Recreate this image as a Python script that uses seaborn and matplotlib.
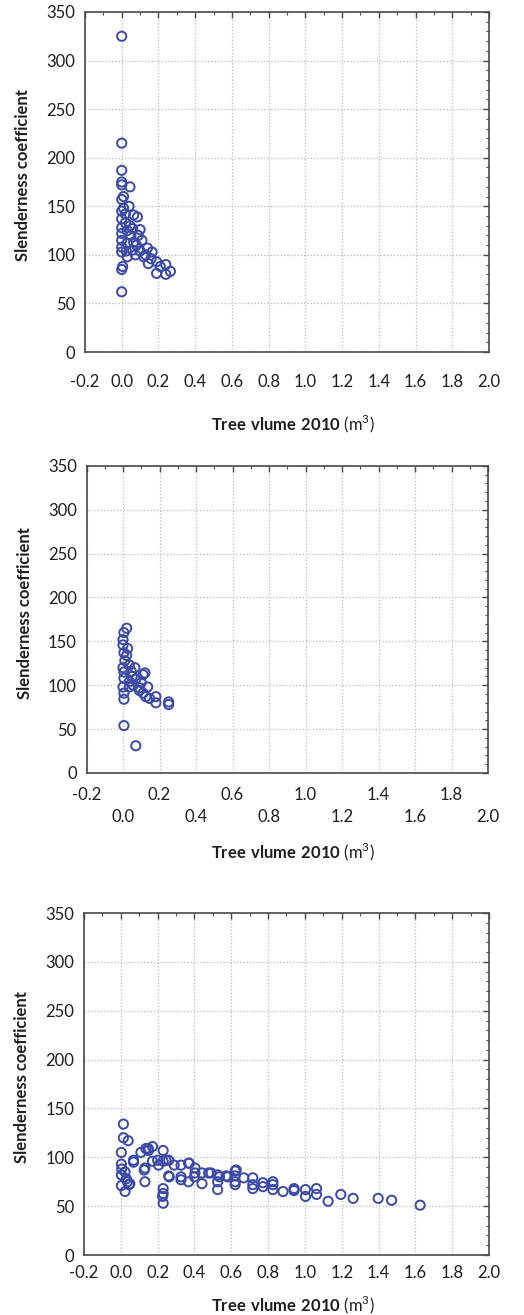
import matplotlib
matplotlib.use("Agg")
import matplotlib.pyplot as plt
import seaborn as sns
from matplotlib.ticker import MultipleLocator, FixedLocator

# ─── data ───────────────────────────────────────────────────────────────────
vol_a = [0.0, 0.0, 0.0, 0.0, 0.0, 0.045, 0.0, 0.01, 0.04, 0.065, 0.085, 0.0,
         0.0, 0.01, 0.045, 0.1, 0.0, 0.0, 0.02, 0.065, 0.11, 0.0, 0.0, 0.14,
         0.165, 0.03, 0.075, 0.12, 0.0, 0.19, 0.24, 0.145, 0.19, 0.24, 0.265,
         0.005, 0.0, 0.0, 0.05, 0.08, 0.03, 0.06, 0.09, 0.1, 0.13, 0.02, 0.03,
         0.06, 0.025, 0.16, 0.21]
sc_a = [325, 215, 187, 175, 172, 170, 157, 160, 150, 141, 139, 137,
        145, 148, 130, 126, 122, 128, 133, 113, 115, 108, 115, 107,
        103, 98, 100, 98, 103, 93, 90, 91, 81, 80, 83,
        88, 85, 62, 120, 110, 112, 105, 120, 104, 100, 142, 125,
        127, 104, 96, 88]

vol_b = [0.005, 0.02, 0.0, 0.0, 0.005, 0.02, 0.035, 0.01, 0.0, 0.005, 0.045,
         0.065, 0.07, 0.11, 0.12, 0.005, 0.0, 0.035, 0.09, 0.135, 0.09, 0.11,
         0.125, 0.005, 0.005, 0.035, 0.18, 0.18, 0.25, 0.25, 0.05, 0.025,
         0.055, 0.145, 0.1, 0.005, 0.07]
sc_b = [160, 165, 152, 146, 137, 134, 123, 128, 120, 115, 116,
        120, 107, 112, 114, 108, 98, 98, 97, 98, 94, 91,
        87, 91, 84, 104, 87, 80, 81, 78, 110, 142,
        100, 85, 103, 54, 31]

vol_c = [0.014, 0.014, 0.04, 0.003, 0.003, 0.005, 0.003, 0.003, 0.023, 0.036,
         0.049, 0.023, 0.069, 0.069, 0.109, 0.131, 0.131, 0.149, 0.172, 0.172,
         0.2, 0.205, 0.23, 0.23, 0.23, 0.23, 0.23, 0.26, 0.26, 0.29, 0.327,
         0.327, 0.327, 0.368, 0.368, 0.403, 0.403, 0.441, 0.441, 0.477, 0.526,
         0.526, 0.526, 0.572, 0.621, 0.621, 0.621, 0.621, 0.668, 0.717, 0.717,
         0.717, 0.772, 0.772, 0.826, 0.826, 0.826, 0.881, 0.941, 0.941, 1.003,
         1.003, 1.063, 1.063, 1.126, 1.195, 1.262, 1.398, 1.471, 1.626,
         0.045, 0.127, 0.136, 0.15, 0.227, 0.245, 0.263, 0.372, 0.4, 0.49,
         0.536, 0.58, 0.627, 0.03]
sc_c = [134, 120, 117, 105, 93, 88, 82, 71, 65, 75,
        73, 85, 95, 97, 105, 89, 75, 109, 111, 96,
        97, 92, 107, 96, 68, 63, 53, 97, 81, 92, 92,
        80, 77, 94, 75, 89, 84, 73, 84, 84, 82,
        75, 67, 81, 86, 81, 75, 72, 79, 79, 72,
        68, 74, 70, 75, 72, 67, 65, 68, 66, 67,
        60, 68, 62, 55, 62, 58, 58, 56, 51,
        72, 87, 109, 107, 60, 97, 80, 94, 80, 84,
        80, 80, 87, 78]

x_ticks = [-0.2, 0.0, 0.2, 0.4, 0.6, 0.8, 1.0, 1.2, 1.4, 1.6, 1.8, 2.0]
x_tick_labels = ["-0.2", "0.0", "0.2", "0.4", "0.6", "0.8", "1.0", "1.2",
                 "1.4", "1.6", "1.8", "2.0"]
y_ticks = [0, 50, 100, 150, 200, 250, 300, 350]

# ─── style ──────────────────────────────────────────────────────────────────
sns.set_style("white")
plt.rcParams['font.family'] = ['Lato', 'DejaVu Sans']
plt.rcParams['mathtext.fontset'] = 'custom'
plt.rcParams['mathtext.rm'] = 'Lato'
plt.rcParams['mathtext.bf'] = 'Lato:bold'

BLUE = "#3b4aa6"
SPINE = "#4a4a4a"
TXT = "#1e1e1e"
XLABEL = r"$\mathbf{Tree\ vlume\ 2010}$ (m$^{3}$)"
YLABEL = "Slenderness coefficient"

fig = plt.figure(figsize=(5.24, 13.15), dpi=100)

panels = [
    # (data x, data y, axes rect, x-tick pad, x-label y, staggered)
    (vol_a, sc_a, [0.1622, 0.7323, 0.7710, 0.2586], 16, -0.180, False),
    (vol_b, sc_b, [0.1651, 0.4122, 0.7662, 0.2335], 10, -0.222, True),
    (vol_c, sc_c, [0.1603, 0.0456, 0.7729, 0.2601], 7, -0.112, False),
]

for xs, ys, rect, xpad, xl_y, stagger in panels:
    ax = fig.add_axes(rect)
    sns.scatterplot(x=xs, y=ys, ax=ax, marker='o', s=44, legend=False)
    pts = ax.collections[-1]
    pts.set_facecolor('none')
    pts.set_edgecolor(BLUE)
    pts.set_linewidth(1.4)

    ax.set_xlim(-0.2, 2.0)
    ax.set_ylim(0, 350)
    ax.xaxis.set_major_locator(FixedLocator(x_ticks))
    ax.yaxis.set_major_locator(FixedLocator(y_ticks))
    ax.xaxis.set_minor_locator(MultipleLocator(0.1))
    ax.yaxis.set_minor_locator(MultipleLocator(10))

    if stagger:
        labs = [l if i % 2 == 0 else "\n" + l for i, l in enumerate(x_tick_labels)]
    else:
        labs = x_tick_labels
    ax.set_xticklabels(labs)
    if stagger:
        for t in ax.get_xticklabels():
            t.set_linespacing(1.45)

    ax.grid(True, which='major', linestyle=':', color='#b8b8b8', linewidth=0.9)
    ax.tick_params(which='both', direction='in', top=True, right=True,
                   color=SPINE, labelcolor=TXT, labelsize=12)
    ax.tick_params(which='major', length=4, width=1)
    ax.tick_params(which='minor', length=2.5, width=0.8)
    ax.tick_params(axis='x', which='major', pad=xpad)
    ax.tick_params(axis='y', which='major', pad=7)

    for sp in ax.spines.values():
        sp.set_color(SPINE)
        sp.set_linewidth(1.2)

    ax.set_xlabel(XLABEL, fontsize=12, color=TXT)
    ax.xaxis.set_label_coords(0.515, xl_y)
    ax.set_ylabel(YLABEL, fontsize=12, fontweight='bold', color=TXT)
    ax.yaxis.set_label_coords(-0.134, 0.52)

fig.savefig("out.png", dpi=100, facecolor='white')
